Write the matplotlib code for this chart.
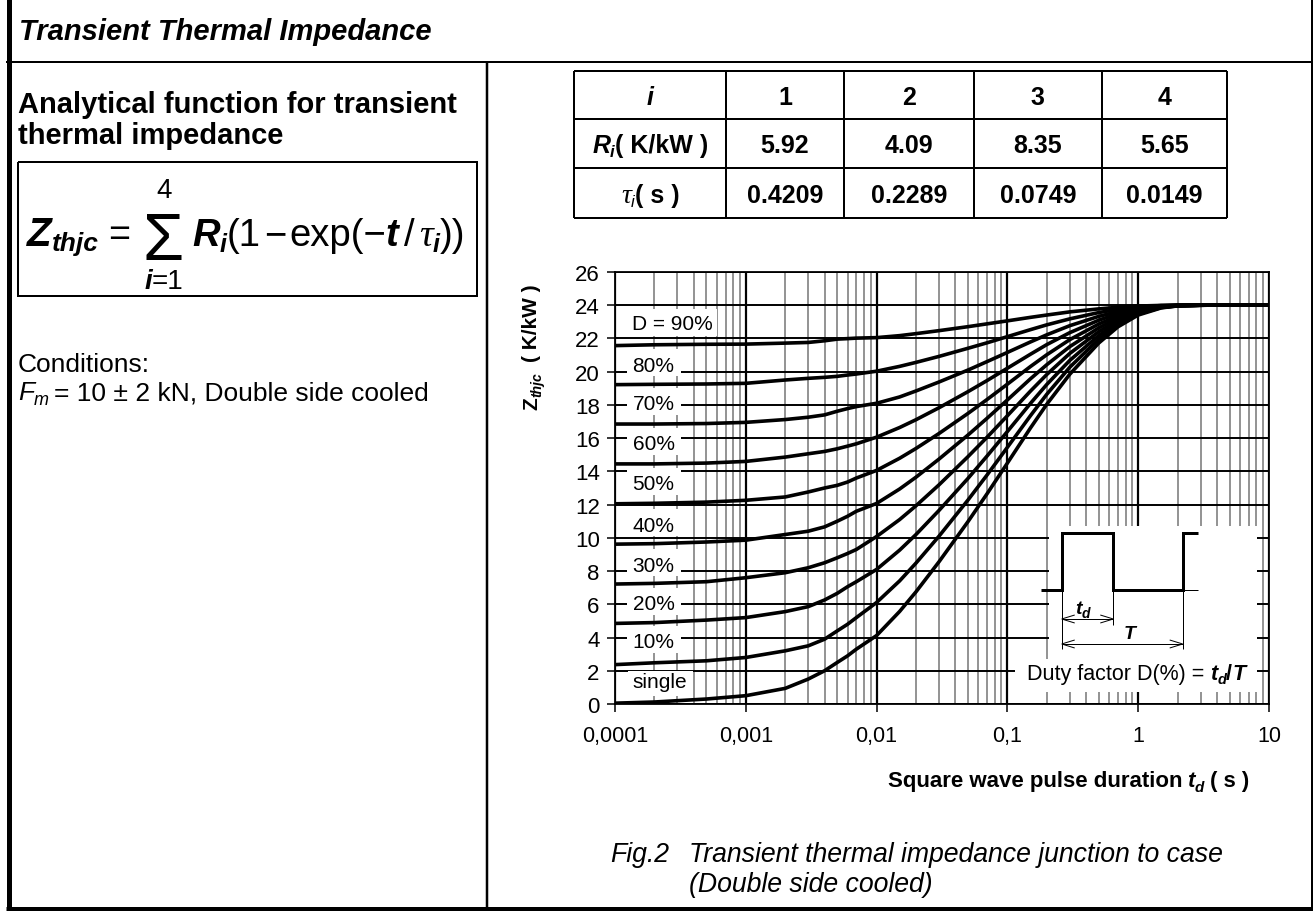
import matplotlib
matplotlib.use("Agg")
import matplotlib.pyplot as plt
from matplotlib.patches import Rectangle
from matplotlib.lines import Line2D
from matplotlib.ticker import FixedLocator, FixedFormatter, LogLocator, NullFormatter

# ---- data ----
t_pts = [1e-4, 2e-4, 5e-4, 1e-3, 2e-3, 3e-3, 4e-3, 5e-3, 6e-3, 7e-3,
         1e-2, 1.5e-2, 2e-2, 3e-2, 5e-2, 7e-2, 0.1, 0.15, 0.2, 0.3,
         0.5, 0.7, 1, 1.5, 2, 3, 5, 10]

z_single = [0.05, 0.12, 0.3, 0.5, 0.94, 1.5, 2.0, 2.5, 2.9, 3.3,
            4.12, 5.57, 6.75, 8.56, 10.98, 12.66, 14.5, 16.61, 18.04, 19.85,
            21.73, 22.7, 23.41, 23.84, 23.96, 24.0, 24.01, 24.01]
z_10 = [2.37, 2.48, 2.6, 2.8, 3.2, 3.5, 3.9, 4.4, 4.8, 5.2,
        6.11, 7.41, 8.48, 10.1, 12.28, 13.79, 15.45, 17.35, 18.64, 20.27,
        21.96, 22.83, 23.47, 23.86, 23.96, 24.0, 24.01, 24.01]
z_20 = [4.85, 4.9, 5.05, 5.2, 5.56, 5.86, 6.26, 6.66, 7.06, 7.36,
        8.1, 9.26, 10.2, 11.65, 13.58, 14.93, 16.4, 18.09, 19.23, 20.68,
        22.18, 22.96, 23.53, 23.87, 23.97, 24.0, 24.01, 24.01]
z_30 = [7.22, 7.26, 7.36, 7.6, 7.9, 8.2, 8.5, 8.8, 9.06, 9.3,
        10.08, 11.1, 11.93, 13.19, 14.89, 16.06, 17.35, 18.83, 19.83, 21.1,
        22.41, 23.09, 23.59, 23.89, 23.97, 24.0, 24.01, 24.01]
z_40 = [9.62, 9.65, 9.75, 9.86, 10.2, 10.4, 10.66, 11.0, 11.3, 11.6,
        12.07, 12.94, 13.65, 14.74, 16.19, 17.2, 18.3, 19.57, 20.42, 21.51,
        22.64, 23.22, 23.65, 23.9, 23.98, 24.0, 24.01, 24.01]
z_50 = [12.05, 12.08, 12.15, 12.26, 12.46, 12.76, 13.0, 13.16, 13.36, 13.6,
        14.06, 14.79, 15.38, 16.28, 17.49, 18.33, 19.25, 20.31, 21.02, 21.93,
        22.87, 23.35, 23.71, 23.92, 23.98, 24.0, 24.01, 24.01]
z_60 = [14.45, 14.45, 14.5, 14.6, 14.86, 15.06, 15.2, 15.36, 15.52, 15.66,
        16.06, 16.64, 17.11, 17.83, 18.8, 19.47, 20.21, 21.05, 21.63, 22.35,
        23.1, 23.49, 23.77, 23.95, 23.99, 24.0, 24.01, 24.01]
z_70 = [16.85, 16.85, 16.88, 16.95, 17.12, 17.26, 17.4, 17.62, 17.78, 17.9,
        18.1, 18.48, 18.84, 19.38, 20.1, 20.61, 21.16, 21.79, 22.22, 22.77,
        23.33, 23.62, 23.83, 23.96, 24.0, 24.01, 24.01, 24.01]
z_80 = [19.22, 19.24, 19.26, 19.3, 19.5, 19.6, 19.66, 19.72, 19.8, 19.86,
        20.03, 20.32, 20.56, 20.92, 21.41, 21.74, 22.11, 22.53, 22.82, 23.18,
        23.56, 23.75, 23.89, 23.98, 24.0, 24.01, 24.01, 24.01]
z_90 = [21.57, 21.62, 21.65, 21.66, 21.72, 21.76, 21.86, 21.96, 21.99, 22.02,
        22.05, 22.17, 22.29, 22.47, 22.71, 22.88, 23.06, 23.27, 23.41, 23.6,
        23.78, 23.88, 23.95, 23.99, 24.0, 24.01, 24.01, 24.01]

curves = [z_single, z_10, z_20, z_30, z_40, z_50, z_60, z_70, z_80, z_90]
duty_labels = ["single", "10%", "20%", "30%", "40%", "50%", "60%", "70%", "80%", "D = 90%"]

xtick_vals = [1e-4, 1e-3, 1e-2, 1e-1, 1, 10]
xtick_labels = ["0,0001", "0,001", "0,01", "0,1", "1", "10"]
ytick_vals = list(range(0, 27, 2))

table_idx = ["1", "2", "3", "4"]
table_r = ["5.92", "4.09", "8.35", "5.65"]
table_tau = ["0.4209", "0.2289", "0.0749", "0.0149"]

# ---- page setup (everything placed in pixels of a 1313x912 page) ----
W, H = 1313, 912
plt.rcParams["font.family"] = ["Liberation Sans", "DejaVu Sans"]
plt.rcParams["mathtext.fontset"] = "custom"
plt.rcParams["mathtext.rm"] = "Liberation Sans"

fig = plt.figure(figsize=(W / 100, H / 100), dpi=100)
renderer = fig.canvas.get_renderer()


def fx(x):
    return x / W


def fy(y):
    return 1 - y / H


def seg(xs, ys, lw, color="black", z=2, cap="butt"):
    fig.add_artist(Line2D([fx(v) for v in xs], [fy(v) for v in ys], transform=fig.transFigure,
                          color=color, lw=lw * 0.72, solid_capstyle=cap,
                          solid_joinstyle="miter", zorder=z))


def white(x0, y0, x1, y1):
    fig.add_artist(Rectangle((fx(x0), fy(y1)), (x1 - x0) / W, (y1 - y0) / H,
                             transform=fig.transFigure, fc="white", ec="none", zorder=1))


def runs(x, y, parts, align="left", rot=0):
    # lay text pieces one after another on a common baseline
    placed = []
    total = 0
    for s, p in parts:
        if isinstance(s, (int, float)):
            total += s
            continue
        p = dict(p)
        dy = p.pop("dy", 0)
        t = fig.text(0, 0, s, rotation=rot, rotation_mode="anchor",
                     ha="left", va="baseline", **p)
        bb = t.get_window_extent(renderer)
        placed.append((t, total, dy))
        total += bb.height if rot else bb.width
    off = {"left": 0, "center": total / 2, "right": total}[align]
    for t, a, dy in placed:
        if rot:
            t.set_position((fx(x - dy), fy(y - (a - off))))
        else:
            t.set_position((fx(x + a - off), fy(y - dy)))


B = dict(fontweight="bold")
BI = dict(fontweight="bold", fontstyle="italic")
I = dict(fontstyle="italic")

# page frame
seg([8.5, 8.5], [0, 912], 5)
seg([6, 1313], [909.5, 909.5], 5)
seg([1311.5, 1311.5], [0, 912], 2)
seg([6, 1313], [62.7, 62.7], 2)
seg([487.3, 487.3], [62.7, 909], 2.5)

fig.text(fx(19), fy(40.5), "Transient Thermal Impedance", fontsize=21, ha="left",
         va="baseline", **BI)

# left column
fig.text(fx(18), fy(113), "Analytical function for transient", fontsize=21, ha="left",
         va="baseline", **B)
fig.text(fx(18), fy(144), "thermal impedance", fontsize=21, ha="left", va="baseline", **B)

seg([17.7, 476.9, 476.9, 17.7, 17.7], [162.7, 162.7, 296.7, 296.7, 162.7], 2)
runs(27, 246, [("Z", dict(fontsize=29, **BI)),
               ("thjc", dict(fontsize=19, dy=-5, **BI)),
               (10, None),
               ("=", dict(fontsize=27))])
fig.text(fx(142), fy(260), r"$\Sigma$", fontsize=48, ha="left", va="baseline")
runs(164, 198, [("4", dict(fontsize=20))], align="center")
runs(164, 289, [("i", dict(fontsize=20, **BI)), ("=1", dict(fontsize=20))], align="center")
runs(192, 246, [("R", dict(fontsize=27.5, **BI)),
                ("i", dict(fontsize=18, dy=-6, **BI)),
                ("(1", dict(fontsize=27.5)), (3, None),
                ("\u2212", dict(fontsize=27.5)), (3, None),
                ("exp(\u2212", dict(fontsize=27.5)),
                ("t", dict(fontsize=27.5, **BI)), (5, None),
                ("/", dict(fontsize=27.5)), (5, None),
                ("\u03c4", dict(fontsize=27.5, family="Liberation Serif", **I)),
                ("i", dict(fontsize=18, dy=-6, **BI)),
                ("))", dict(fontsize=27.5))])

fig.text(fx(17.7), fy(372.5), "Conditions:", fontsize=19, ha="left", va="baseline")
runs(17.7, 400.5, [("F", dict(fontsize=19, **I)),
                   ("m", dict(fontsize=13, dy=-5, **I)),
                   (5, None),
                   ("= 10 \u00b1 2 kN, Double side cooled", dict(fontsize=19))])

# parameter table
col_x = [574.4, 725.7, 844.3, 974, 1101.7, 1226.7]
row_y = [71.5, 120, 168.5, 219]
for x in col_x:
    seg([x, x], [row_y[0], row_y[-1]], 2)
for y in row_y:
    seg([col_x[0], col_x[-1]], [y, y], 2)
cx = [(col_x[k] + col_x[k + 1]) / 2 for k in range(5)]
cy = [(row_y[k] + row_y[k + 1]) / 2 + 9 for k in range(3)]
runs(cx[0], cy[0], [("i", dict(fontsize=18, **BI))], align="center")
runs(cx[0], cy[1], [("R", dict(fontsize=18, **BI)), ("i", dict(fontsize=12, dy=-4, **BI)),
                    ("( K/kW )", dict(fontsize=18, **B))], align="center")
runs(cx[0], cy[2], [("\u03c4", dict(fontsize=20, family="Liberation Serif", **I)),
                    ("i", dict(fontsize=12, dy=-4, **I)),
                    ("( s )", dict(fontsize=18, **B))], align="center")
for k in range(4):
    for row, vals in enumerate([table_idx, table_r, table_tau]):
        fig.text(fx(cx[k + 1]), fy(cy[row]), vals[k], fontsize=18, ha="center",
                 va="baseline", **B)

# ---- the chart ----
ax = fig.add_axes([fx(615), fy(705), (1269 - 615) / W, (705 - 273) / H])
ax.set_xscale("log")
ax.set_xlim(1e-4, 10)
ax.set_ylim(0, 26)
ax.xaxis.set_major_locator(FixedLocator(xtick_vals))
ax.xaxis.set_major_formatter(FixedFormatter(xtick_labels))
ax.xaxis.set_minor_locator(LogLocator(base=10, subs=range(2, 10), numticks=20))
ax.xaxis.set_minor_formatter(NullFormatter())
ax.set_yticks(ytick_vals)
ax.tick_params(axis="x", which="major", length=6, width=1.1, pad=9, labelsize=15.5)
ax.tick_params(axis="x", which="minor", length=0)
ax.tick_params(axis="y", length=6, width=1.1, pad=5, labelsize=16)
ax.set_axisbelow(True)
ax.grid(True, which="major", axis="y", color="black", lw=1.4)
ax.grid(True, which="major", axis="x", color="black", lw=1.6)
ax.grid(True, which="minor", axis="x", color="#808080", lw=1.2)
for s in ax.spines.values():
    s.set_linewidth(1.3)

for z in curves:
    ax.plot(t_pts, z, color="black", lw=2.6, solid_joinstyle="round", zorder=4)

# curve labels on white patches
label_cy = [681, 641, 602.5, 564, 524, 482.5, 442.5, 402.5, 364, 322.5]
for lab, yc in zip(duty_labels, label_cy):
    if lab == "single":
        white(627.7, 672, 692.7, 696.5)
        xc = 660
    elif lab.startswith("D"):
        white(627.7, 309.5, 716.7, 337)
        xc = 672
    else:
        white(627, yc - 14, 681, yc + 13)
        xc = 653.5
    fig.text(fx(xc), fy(yc + 7.5), lab, fontsize=15, ha="center", va="baseline", zorder=5)

# axis titles
runs(537, 410, [("Z", dict(fontsize=15, **B)), ("thjc", dict(fontsize=10, dy=-4, **BI)),
                (10, None), ("( K/kW )", dict(fontsize=15, **B))], rot=90)
runs(1249, 787, [("Square wave pulse duration", dict(fontsize=16, **B)), (5, None),
                 ("t", dict(fontsize=16, **BI)), ("d", dict(fontsize=11, dy=-5, **BI)),
                 (6, None), ("( s )", dict(fontsize=16, **B))], align="right")

# duty-factor inset
white(1049, 527, 1257, 662)
white(1015, 660, 1257, 693)
seg([1040.7, 1061.7, 1061.7, 1113.3, 1113.3, 1182.7, 1182.7, 1197.7],
    [591, 591, 534, 534, 591, 591, 534, 534], 3, z=3)
seg([1182.7, 1197.7], [591, 591], 1, z=3)
seg([1061.7, 1061.7], [591, 650], 1, z=3)
seg([1113.3, 1113.3], [591, 626], 1, z=3)
seg([1182.7, 1182.7], [591, 650], 1, z=3)
for y, x0, x1 in [(620, 1061.7, 1113.3), (645, 1061.7, 1182.7)]:
    seg([x0, x1], [y, y], 1, z=3)
    seg([x0 + 13, x0, x0 + 13], [y - 4, y, y + 4], 1, z=3)
    seg([x1 - 13, x1, x1 - 13], [y - 4, y, y + 4], 1, z=3)
runs(1083, 614, [("t", dict(fontsize=14, **BI)), ("d", dict(fontsize=10, dy=-4, **BI))],
     align="center")
runs(1130, 639, [("T", dict(fontsize=14, **BI))], align="center")
runs(1136, 680, [("Duty factor D(%) = ", dict(fontsize=15.5)), ("t", dict(fontsize=15.5, **BI)),
                 ("d", dict(fontsize=10.5, dy=-4, **BI)), ("/", dict(fontsize=15.5, **B)),
                 ("T", dict(fontsize=15.5, **BI))], align="center")

# caption
fig.text(fx(610), fy(862), "Fig.2", fontsize=19.2, ha="left", va="baseline", **I)
fig.text(fx(689), fy(862), "Transient thermal impedance junction to case", fontsize=19.2,
         ha="left", va="baseline", **I)
fig.text(fx(689), fy(892), "(Double side cooled)", fontsize=19.2, ha="left",
         va="baseline", **I)

fig.savefig("out.png", dpi=100)
